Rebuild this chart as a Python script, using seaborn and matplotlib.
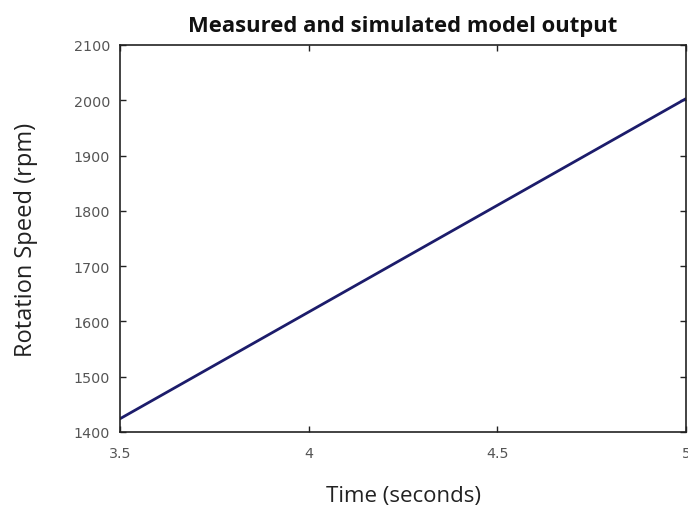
import matplotlib
matplotlib.use("Agg")
import matplotlib.pyplot as plt
import seaborn as sns
import pandas as pd

time_s = [3.5, 5.0]
speed_rpm = [1424, 2003]
x_ticks = [3.5, 4, 4.5, 5]
x_tick_labels = ["3.5", "4", "4.5", "5"]
y_ticks = [1400, 1500, 1600, 1700, 1800, 1900, 2000, 2100]

sns.set_theme(style="ticks")
plt.rcParams['font.family'] = ['Open Sans', 'DejaVu Sans']

df = pd.DataFrame({"Time": time_s, "Speed": speed_rpm})

fig = plt.figure(figsize=(6.88, 5.10), dpi=100)
ax = fig.add_axes([120/688, 1-433/510, 566/688, (433-46)/510])
sns.lineplot(data=df, x="Time", y="Speed", ax=ax, color="#1c1c6b", linewidth=2)

ax.set_xlim(3.5, 5)
ax.set_ylim(1400, 2100)
ax.set_xticks(x_ticks)
ax.set_xticklabels(x_tick_labels)
ax.set_yticks(y_ticks)
ax.tick_params(direction="in", length=4, width=1, top=True, right=True,
               labelsize=10, colors="#222222", labelcolor="#555555")
ax.tick_params(axis="x", pad=10)
ax.tick_params(axis="y", pad=7)
for lbl in ax.get_xticklabels() + ax.get_yticklabels():
    lbl.set_family(["DejaVu Sans"])
    lbl.set_fontsize(10.3)
for s in ax.spines.values():
    s.set_linewidth(1.2)
    s.set_color("#222222")
ax.set_xlabel("Time (seconds)", fontsize=16, labelpad=18, color="#222222")
ax.set_ylabel("Rotation Speed (rpm)", fontsize=17, labelpad=26, color="#222222")
ax.set_title("Measured and simulated model output", fontsize=15.8, fontweight="bold", pad=10, color="#111111")

fig.savefig("out.png", dpi=100)
